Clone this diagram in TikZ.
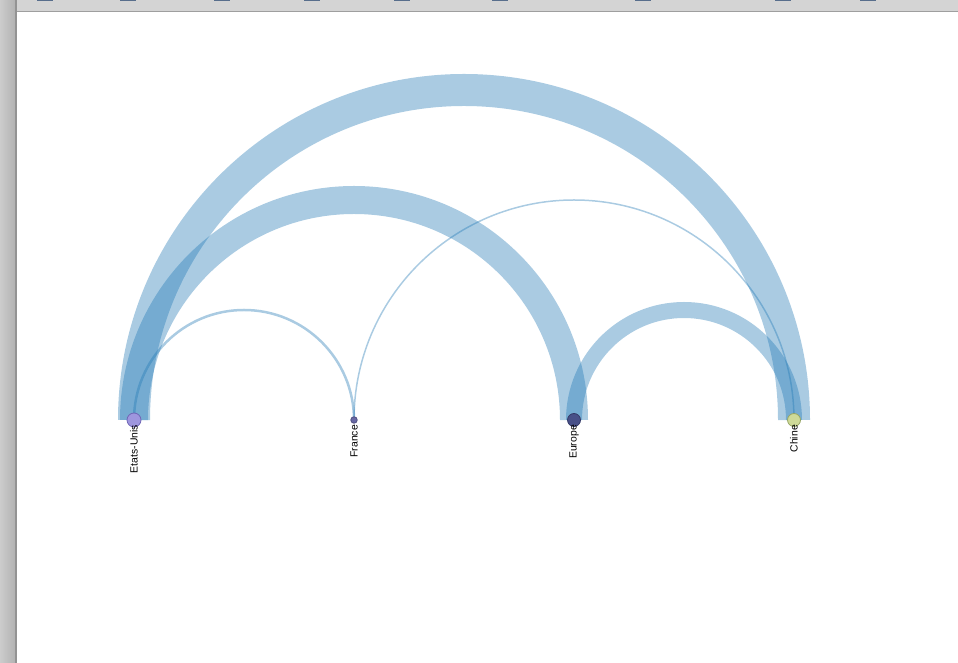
\documentclass[tikz,border=0pt]{standalone}
\usepackage{fontspec}
\setsansfont{Liberation Sans}
\usetikzlibrary{backgrounds}

\definecolor{linkblue}{RGB}{31,119,180}
\definecolor{framegray}{RGB}{212,212,212}
\definecolor{iconblue}{RGB}{88,110,140}

\begin{document}
\begin{tikzpicture}[x=1pt,y=1pt,
    link/.style={draw=linkblue, draw opacity=0.38, line cap=butt},
    country/.style={circle, draw, line width=0.8pt, inner sep=0pt},
    countrylabel/.style={rotate=90, anchor=east, inner sep=0pt,
      font=\sffamily\fontsize{10.4}{12}\selectfont}]
        \useasboundingbox (0,0) rectangle (958,663);

        % Window frame
        \fill[framegray] (0,652) rectangle (958,663);
        \draw[line width=1.2pt, gray!75] (16,651.4) -- (958,651.4);
        \shade[left color=gray!40, right color=gray!60] (0,0) rectangle (15,663);
        \fill[gray!85] (15,0) rectangle (16.5,663);
        \foreach \x in {37,120,214,304,394,492,635,775,860}
            \fill[iconblue] (\x,661.5) rectangle ++(16,1.5);

        % Countries
        \node[country, minimum size=14pt, fill={rgb,255:red,158;green,150;blue,222}, draw={rgb,255:red,112;green,102;blue,182}] (us) at (134,243) {};
        \node[country, minimum size=6.5pt, fill={rgb,255:red,104;green,104;blue,164}, draw={rgb,255:red,80;green,80;blue,130}] (fr) at (354,243) {};
        \node[country, minimum size=13pt, fill={rgb,255:red,72;green,80;blue,136}, draw={rgb,255:red,52;green,58;blue,104}] (eur) at (574,243) {};
        \node[country, minimum size=13pt, fill={rgb,255:red,206;green,218;blue,152}, draw={rgb,255:red,150;green,165;blue,100}] (chn) at (794,243) {};

        % Links
        \begin{scope}[on background layer]
            \draw[link, line width=32pt] (us.center) arc[start angle=180, end angle=0, radius=330];
            \draw[link, line width=28pt] (us.center) arc[start angle=180, end angle=0, radius=220];
            \draw[link, line width=16pt] (eur.center) arc[start angle=180, end angle=0, radius=110];
            \draw[link, line width=2.5pt] (us.center) arc[start angle=180, end angle=0, radius=110];
            \draw[link, line width=1.5pt] (fr.center) arc[start angle=180, end angle=0, radius=220];
        \end{scope}

        % Labels
        \node[countrylabel] (uslabel) at (134,238) {Etats-Unis};
        \node[countrylabel] (frlabel) at (354,238) {France};
        \node[countrylabel] (eurlabel) at (574,238) {Europe};
        \node[countrylabel] (chnlabel) at (794,238) {Chine};

\end{tikzpicture}
\end{document}
